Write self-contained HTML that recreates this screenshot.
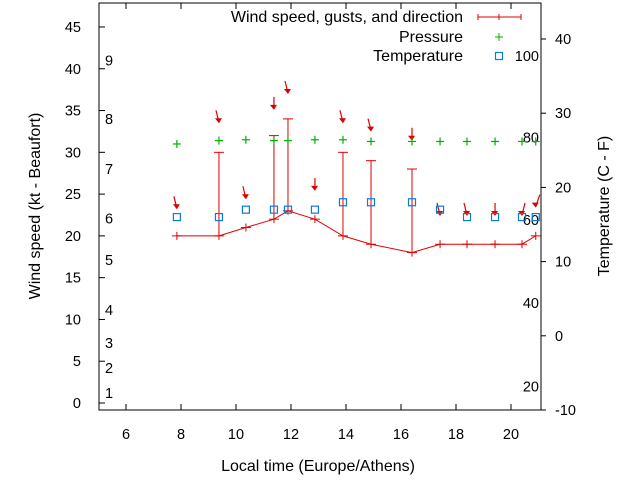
<!DOCTYPE html>
<html><head><meta charset="utf-8"><style>
body{margin:0;background:#fff}
svg{display:block;font-family:"Liberation Sans",sans-serif}
</style></head><body>
<svg id="c" width="640" height="480"></svg>
<script>
const hours=[7.85,9.38,10.36,11.38,11.89,12.87,13.89,14.91,16.4,17.42,18.4,19.42,20.4,20.9];
const wind=[20,20,21,22,23,22,20,19,18,19,19,19,19,20];
const gusts=[20,30,21,32,34,22,30,29,28,19,19,19,19,20];
const pressure=[31,31.4,31.5,31.4,31.4,31.5,31.5,31.3,31.3,31.3,31.3,31.3,31.3,31.3];
const temps=[16,16,17,17,17,17,18,18,18,17,16,16,16,16];
const arrowLevel=[23.3,33.6,24.5,35.2,37.1,25.5,33.6,32.6,31.5,22.5,22.5,22.5,22.5,23.5];
const arrowDx=[-3,-3,-3,0,-3,0,-3,-3,0,-3,-3,0,3,4];
const beaufort=[[1,1.2],[2,4.2],[3,7.2],[4,11.1],[5,17.1],[6,22.1],[7,28],[8,34],[9,41]];
const fLabels=[[100,37.7],[80,26.7],[60,15.6],[40,4.4],[20,-6.8]];
const yTicks=[0,5,10,15,20,25,30,35,40,45];
const y2Ticks=[-10,0,10,20,30,40];
const xTicks=[6,8,10,12,14,16,18,20];
const L=99,R=541,T=3,B=410;
const X=h=>126+(h-6)*27.5;
const Y=v=>403-v*8.356;
const Y2=t=>410-(t+10)*7.42;
const s=document.getElementById('c');const NS='http://www.w3.org/2000/svg';
function el(t,a,p){const e=document.createElementNS(NS,t);for(const k in a)e.setAttribute(k,a[k]);(p||s).appendChild(e);return e;}
function txt(x,y,str,anchor,extra){const e=el('text',Object.assign({x:x,y:y,'font-size':14.5,'text-anchor':anchor||'start',fill:'#000'},extra||{}));e.textContent=str;return e;}
const frame=el('rect',{x:L,y:T,width:R-L,height:B-T,fill:'none',stroke:'#000'});

yTicks.forEach(v=>{const y=Y(v);el('line',{x1:L,y1:y,x2:L+6,y2:y,stroke:'#000'});const t=txt(81,y+5,String(v),'end');
});
y2Ticks.forEach(v=>{const y=Y2(v);el('line',{x1:R,y1:y,x2:R+5,y2:y,stroke:'#000'});const t=txt(555,y+5,String(v));
});
xTicks.forEach(v=>{const x=X(v);el('line',{x1:x,y1:B,x2:x,y2:B-6,stroke:'#000'});el('line',{x1:x,y1:T,x2:x,y2:T+6,stroke:'#000'});const t=txt(x,439,String(v),'middle');
});
beaufort.forEach(b=>{const t=txt(105,Y(b[1])+5,String(b[0]));});
fLabels.forEach(f=>{const t=txt(539,Y2(f[1])+5,String(f[0]),'end');});
const pl=el('polyline',{points:hours.map((h,i)=>X(h)+','+Y(wind[i])).join(' '),fill:'none',stroke:'#e00000','stroke-width':1});

hours.forEach((h,i)=>{const x=X(h),y=Y(wind[i]);
 el('line',{x1:x-5,y1:y,x2:x+5,y2:y,stroke:'#e00000'});el('line',{x1:x,y1:y-4,x2:x,y2:y+4,stroke:'#e00000'});
 if(gusts[i]>wind[i]){const g=el('line',{x1:x,y1:y,x2:x,y2:Y(gusts[i]),stroke:'#e00000'});
 
 el('line',{x1:x-5,y1:Y(gusts[i]),x2:x+5,y2:Y(gusts[i]),stroke:'#e00000'});}
 const ay=Y(arrowLevel[i]);const dx=arrowDx[i];
 const a=el('g',{});
 el('line',{x1:x+dx,y1:ay-12,x2:x,y2:ay,stroke:'#e00000','stroke-width':1.2},a);
 el('polygon',{points:(x-4)+','+(ay-4)+' '+(x+3)+','+(ay-4)+' '+x+','+(ay+1),fill:'#e00000'},a);
 const p=el('g',{stroke:'#00b000','stroke-width':1.2});
 const py=Y(pressure[i]);el('line',{x1:x-4,y1:py,x2:x+4,y2:py},p);el('line',{x1:x,y1:py-4,x2:x,y2:py+4},p);
 const ty=Y2(temps[i]);const q=el('rect',{x:x-3.5,y:ty-3.5,width:7,height:7,fill:'none',stroke:'#0a7ae0','stroke-width':1.2});
 
});
const lg=el('g',{});
[['Wind speed, gusts, and direction',17],['Pressure',37],['Temperature',56]].forEach(r=>{const t=txt(463,r[1]+5,r[0],'end',{'font-size':16});lg.appendChild(t);});
el('line',{x1:478,y1:17,x2:521,y2:17,stroke:'#e00000'},lg);el('line',{x1:478,y1:14,x2:478,y2:20,stroke:'#e00000'},lg);
el('line',{x1:521,y1:14,x2:521,y2:20,stroke:'#e00000'},lg);el('line',{x1:499,y1:14,x2:499,y2:20,stroke:'#e00000'},lg);
el('line',{x1:495,y1:37,x2:503,y2:37,stroke:'#00b000'},lg);el('line',{x1:499,y1:33,x2:499,y2:41,stroke:'#00b000'},lg);
el('rect',{x:495.5,y:52.5,width:7,height:7,fill:'none',stroke:'#0a7ae0','stroke-width':1.2},lg);
const xt=txt(318,471,'Local time (Europe/Athens)','middle',{'font-size':16});
const yt=txt(0,0,'Wind speed (kt - Beaufort)','middle',{'font-size':16,transform:'translate(40,206) rotate(-90)'});
const y2t=txt(0,0,'Temperature (C - F)','middle',{'font-size':16,transform:'translate(609,206) rotate(-90)'});
</script>
</body></html>
